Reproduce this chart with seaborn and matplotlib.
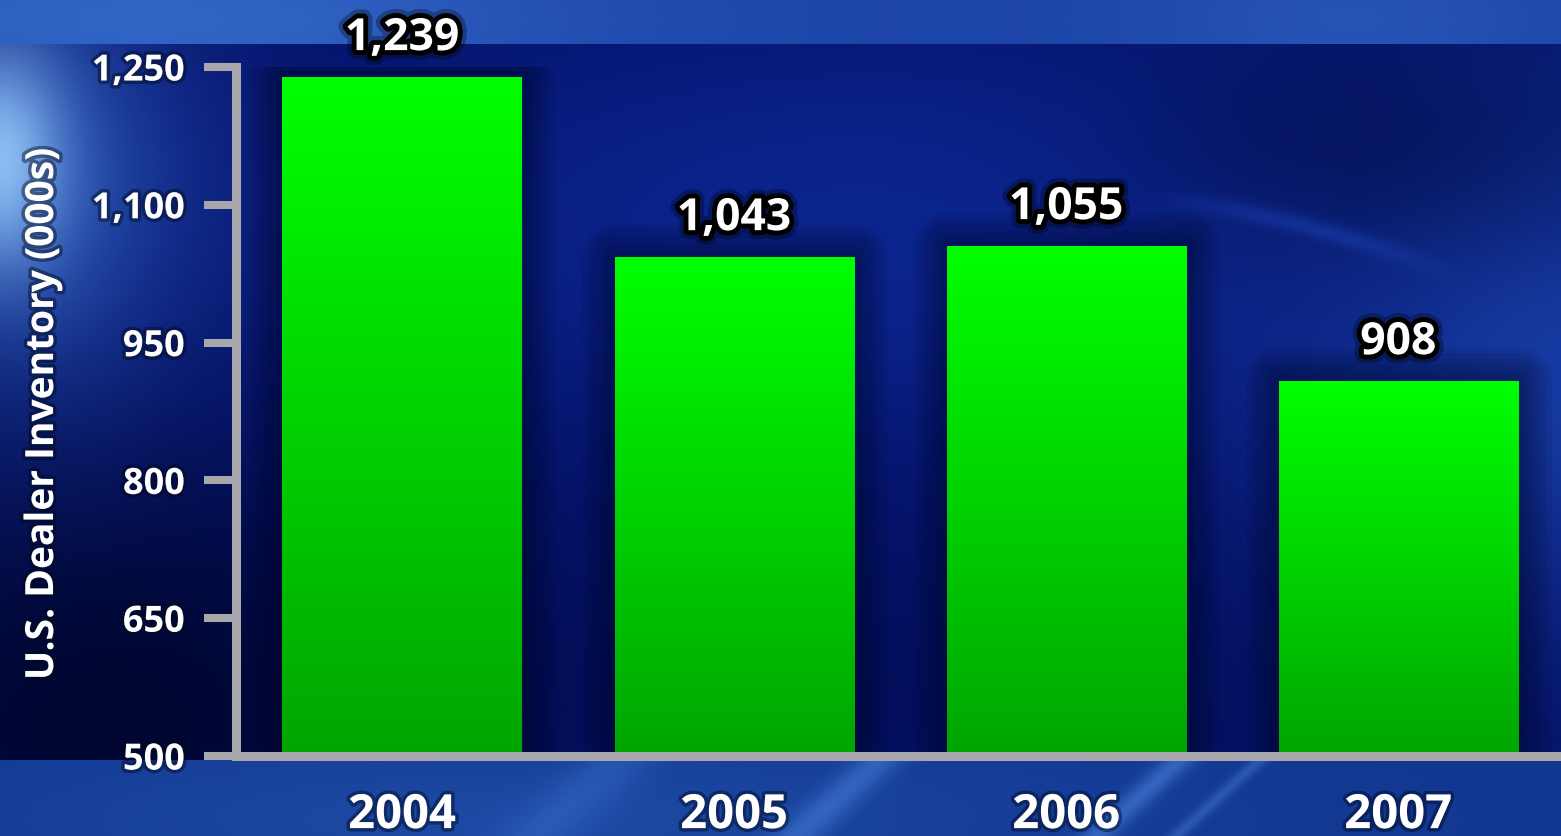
import numpy as np
import matplotlib
matplotlib.use("Agg")
import matplotlib.pyplot as plt
import matplotlib.patheffects as pe
from matplotlib.ticker import FuncFormatter
import seaborn as sns

# Inventory data
years = ["2004", "2005", "2006", "2007"]
inventory = [1239, 1043, 1055, 908]
y_ticks = [500, 650, 800, 950, 1100, 1250]
y_label = "U.S. Dealer Inventory (000s)"

W, H, DPI = 1561, 837, 100

sns.set_theme(style="white")
plt.rcParams["font.family"] = ["Open Sans", "DejaVu Sans"]
plt.rcParams["font.weight"] = "bold"

fig = plt.figure(figsize=(W / DPI, H / DPI), dpi=DPI)

# ---- broadcast-style blue backdrop ----
yy, xx = np.mgrid[0:H, 0:W].astype(float)


def blob(cx, cy, sx, sy):
    return np.exp(-(((xx - cx) / sx) ** 2 + ((yy - cy) / sy) ** 2) / 2)


def mix(img, color, alpha):
    c = np.array(color, float) / 255.0
    a = np.clip(alpha, 0, 1)[..., None]
    return img * (1 - a) + c * a


bg = np.ones((H, W, 3)) * np.array([4, 18, 105]) / 255.0
bg = mix(bg, (14, 45, 160), 0.7 * blob(900, 230, 420, 150))
bg = mix(bg, (30, 75, 185), 0.7 * blob(1580, 360, 200, 200))
bg = mix(bg, (0, 8, 60), 0.5 * blob(1380, 150, 180, 90))
bg = mix(bg, (0, 4, 35), 0.85 * blob(120, 720, 230, 180))
bg = mix(bg, (0, 10, 70), 0.4 * blob(800, 700, 500, 120))
bg = mix(bg, (55, 110, 210), 0.65 * blob(30, 180, 110, 150))
bg = mix(bg, (150, 200, 250), 0.9 * blob(0, 160, 45, 75))
# soft swoosh of light on the right
t = (xx - 1150) / 320.0
curve = 200 + 80 * np.clip(t, 0, 1) ** 1.5
swoosh = np.exp(-((yy - curve) / 10) ** 2) * np.clip(np.sin(np.pi * np.clip(t, 0, 1)), 0, 1)
bg = mix(bg, (30, 70, 190), 0.45 * swoosh)

# top band
top = yy < 45
band = np.ones((H, W, 3)) * np.array([28, 68, 168]) / 255.0
band = mix(band, (55, 110, 205), 0.8 * blob(150, 20, 300, 60))
band = mix(band, (45, 95, 190), 0.6 * blob(1350, 20, 150, 60))
bg[top] = band[top]

# bottom band with diagonal streaks
bot = yy > 760
band = np.ones((H, W, 3)) * np.array([18, 55, 145]) / 255.0
band = mix(band, (35, 85, 175), 0.6 * blob(500, 820, 400, 60))
for x0, w, a in [(880, 25, 0.45), (1180, 18, 0.5), (1260, 10, 0.35), (620, 40, 0.25)]:
    d = (xx - x0) + (yy - 760) * 1.1
    band = mix(band, (80, 140, 230), a * np.exp(-(d / w) ** 2))
bg[bot] = band[bot]

fig.figimage(np.clip(bg, 0, 1), xo=0, yo=0, origin="upper", zorder=-10)

# ---- axes ----
left, right = 236 / W, 1.0
bottom, top_px = 757, 68
ax = fig.add_axes([left, (H - bottom) / H, right - left, (bottom - top_px) / H])
ax.set_facecolor("none")
ax.set_zorder(1)

sns.barplot(x=years, y=inventory, ax=ax, width=0.72, color="#00dd00",
            saturation=1, zorder=3)

ax.set_ylim(500, 1250)
ax.set_xlim(-0.5, 3.49)
ax.set_yticks(y_ticks)
ax.yaxis.set_major_formatter(FuncFormatter(lambda v, p: f"{int(v):,}"))

# vertical green gradient inside each bar, with a soft dark halo around it
grad = np.linspace(0, 1, 256)[:, None]
green = np.zeros((256, 1, 3))
green[..., 1] = (165 + 90 * grad) / 255.0
glow = [pe.Stroke(linewidth=w, foreground="#000628", alpha=0.09, joinstyle="round")
        for w in (48, 40, 32, 24, 16, 8)] + [pe.Normal()]
for bar in ax.patches:
    bar.set_path_effects(glow)
    bar.set_edgecolor("none")
    x0 = bar.get_x()
    x1 = x0 + bar.get_width()
    h = bar.get_height()
    im = ax.imshow(green, extent=[x0, x1, 500, h], origin="lower",
                   aspect="auto", zorder=4, interpolation="bilinear")
    im.set_clip_path(bar)

ax.set_xlim(-0.5, 3.49)
ax.set_ylim(500, 1250)

# value labels
label_fx = [pe.Stroke(linewidth=13, foreground="black", alpha=0.3, joinstyle="round"),
            pe.Stroke(linewidth=7, foreground="black", joinstyle="round"), pe.Normal()]
for bar, v in zip(ax.patches, inventory):
    ax.annotate(f"{v:,}", (bar.get_x() + bar.get_width() / 2, v),
                xytext=(0, 16), textcoords="offset pixels",
                ha="center", va="bottom", color="white", fontsize=32,
                fontweight="bold", zorder=6, annotation_clip=False,
                path_effects=label_fx)

# spines & ticks
sns.despine(ax=ax, top=True, right=True)
for s in ("left", "bottom"):
    ax.spines[s].set_color("#a8a8ac")
    ax.spines[s].set_linewidth(6.5)
    ax.spines[s].set_zorder(5)
ax.spines["bottom"].set_capstyle("butt")

tick_fx = [pe.Stroke(linewidth=5, foreground="#000820", alpha=0.45, joinstyle="round"),
           pe.Normal()]
ax.tick_params(axis="y", which="major", length=23, width=5.8, color="#a8a8ac",
               direction="out", pad=14, labelsize=26, labelcolor="white", left=True)
ax.tick_params(axis="x", which="major", length=0, pad=26, labelsize=34,
               labelcolor="white", bottom=True)
for t in ax.get_yticklabels() + ax.get_xticklabels():
    t.set_fontweight("bold")
    t.set_path_effects(tick_fx)

ax.set_xlabel("")
ax.set_ylabel(y_label, fontsize=28, fontweight="bold", color="white",
              path_effects=tick_fx)
ax.yaxis.set_label_coords(-0.146, 0.496)
ax.yaxis.label.set_va("center")

fig.savefig("out.png", dpi=DPI)
